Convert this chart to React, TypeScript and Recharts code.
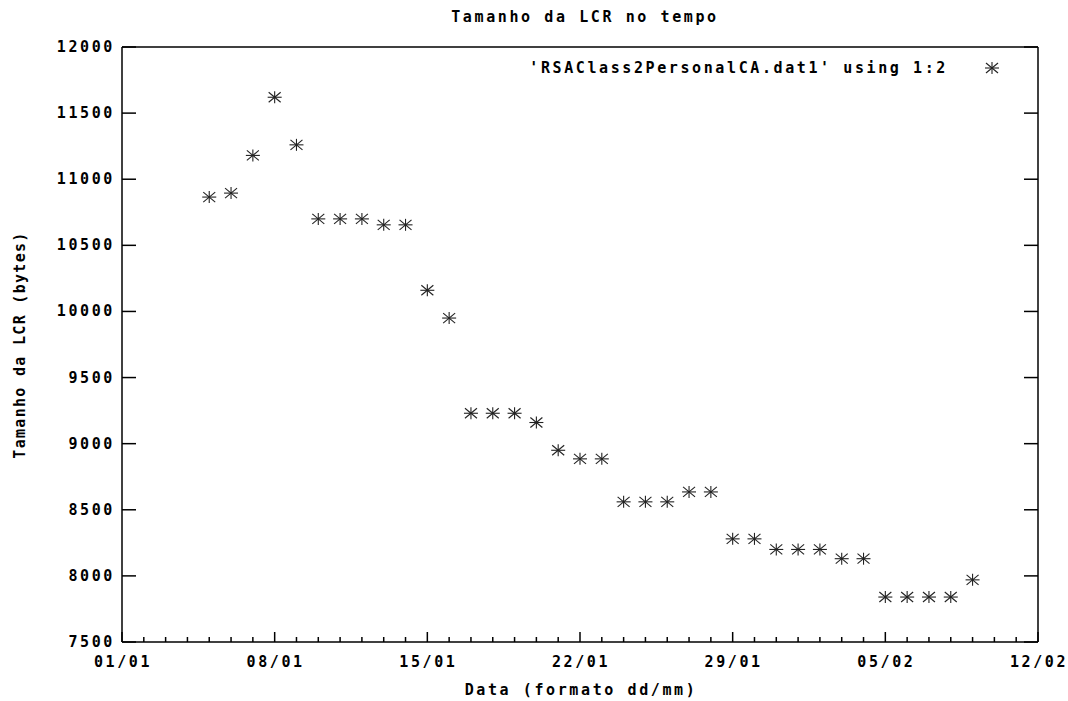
import React from 'react';
import { ScatterChart, Scatter, XAxis, YAxis, Legend } from 'recharts';

// days since 01/01
const days = [
  4, 5, 6, 7, 8, 9, 10, 11, 12, 13, 14, 15,
  16, 17, 18, 19, 20, 21, 22, 23, 24, 25, 26, 27,
  28, 29, 30, 31, 32, 33, 34, 35, 36, 37, 38, 39,
];
// LCR size in bytes
const lcrSize = [
  10865, 10895, 11180, 11620, 11260, 10700, 10700, 10700, 10655, 10655, 10160, 9950,
  9230, 9230, 9230, 9160, 8950, 8885, 8885, 8560, 8560, 8560, 8635, 8635,
  8280, 8280, 8200, 8200, 8200, 8130, 8130, 7840, 7840, 7840, 7840, 7970,
];
const xTickLabels = ['01/01', '08/01', '15/01', '22/01', '29/01', '05/02', '12/02'];
const xTicks = Array.from({ length: 43 }, (_, i) => i);
const yTicks = [7500, 8000, 8500, 9000, 9500, 10000, 10500, 11000, 11500, 12000];

const title = 'Tamanho da LCR no tempo';
const xTitle = 'Data (formato dd/mm)';
const yTitle = 'Tamanho da LCR (bytes)';
const seriesName = "'RSAClass2PersonalCA.dat1' using 1:2";

const data = days.map((d, i) => ({ day: d, size: lcrSize[i] }));

const W = 1068;
const H = 701;

const font: React.CSSProperties = {
  fontFamily: "'DejaVu Sans Mono', monospace",
  fontWeight: 'bold',
  fontSize: 15,
  letterSpacing: '2.6px',
  fill: '#000',
  color: '#000',
};

const Star = ({ cx, cy }: { cx: number; cy: number }) => (
  <g stroke="#222" strokeWidth={1.1}>
    <line x1={cx - 7} y1={cy} x2={cx + 7} y2={cy} />
    <line x1={cx} y1={cy - 6} x2={cx} y2={cy + 6} />
    <line x1={cx - 6} y1={cy - 5} x2={cx + 6} y2={cy + 5} />
    <line x1={cx - 6} y1={cy + 5} x2={cx + 6} y2={cy - 5} />
  </g>
);

const BottomTick = (props: any) => {
  const { x, y, payload } = props;
  const major = payload.value % 7 === 0;
  return (
    <g>
      <line x1={x} y1={y} x2={x} y2={y - (major ? 10 : 5)} stroke="#000" strokeWidth={1.5} />
      {major && (
        <text x={x + 1} y={y + 20} textAnchor="middle" dominantBaseline="central" style={font}>
          {xTickLabels[payload.value / 7]}
        </text>
      )}
    </g>
  );
};

const TopTick = (props: any) => {
  const { x, y, payload } = props;
  const major = payload.value % 7 === 0;
  return <line x1={x} y1={y} x2={x} y2={y + (major ? 10 : 5)} stroke="#000" strokeWidth={1.5} />;
};

const LeftTick = (props: any) => {
  const { x, y, payload } = props;
  return (
    <g>
      <line x1={x} y1={y} x2={x + 14} y2={y} stroke="#000" strokeWidth={1.5} />
      <text x={x - 7} y={y} textAnchor="end" dominantBaseline="central" style={font}>
        {payload.value}
      </text>
    </g>
  );
};

const RightTick = (props: any) => {
  const { x, y } = props;
  return <line x1={x} y1={y} x2={x - 14} y2={y} stroke="#000" strokeWidth={1.5} />;
};

const LegendKey = () => (
  <div style={{ position: 'relative', width: W, height: 24 }}>
    <span style={{ ...font, position: 'absolute', right: W - 948, top: 2, whiteSpace: 'pre', lineHeight: '20px' }}>
      {seriesName}
    </span>
    <svg style={{ position: 'absolute', left: 982, top: 2 }} width={20} height={20}>
      <Star cx={10} cy={10} />
    </svg>
  </div>
);

const App = () => {
  const axisLine = { stroke: '#000', strokeWidth: 1.5 };
  return (
    <div style={{ position: 'absolute', left: 0, top: 0, width: W, height: H, background: '#fff' }}>
      <div
        style={{
          ...font,
          position: 'absolute',
          top: 7,
          left: 585,
          whiteSpace: 'pre',
          lineHeight: '20px',
          transform: 'translateX(-50%)',
        }}
      >
        {title}
      </div>
      <div
        style={{
          ...font,
          position: 'absolute',
          top: 680,
          left: 581,
          whiteSpace: 'pre',
          lineHeight: '20px',
          transform: 'translateX(-50%)',
        }}
      >
        {xTitle}
      </div>
      <div
        style={{
          ...font,
          letterSpacing: '1.3px',
          position: 'absolute',
          left: 20,
          top: 345,
          whiteSpace: 'pre',
          lineHeight: '20px',
          transform: 'translate(-50%, -50%) rotate(-90deg)',
        }}
      >
        {yTitle}
      </div>
      <ScatterChart width={W} height={H} margin={{ top: 46, right: 29, bottom: 58, left: 121 }}>
        <XAxis
          xAxisId="b"
          dataKey="day"
          type="number"
          domain={[0, 42]}
          ticks={xTicks}
          interval={0}
          height={1}
          tickSize={0}
          tickMargin={0}
          tick={<BottomTick />}
          axisLine={axisLine}
          allowDataOverflow
        />
        <XAxis
          xAxisId="t"
          orientation="top"
          type="number"
          domain={[0, 42]}
          ticks={xTicks}
          interval={0}
          height={1}
          tickSize={0}
          tickMargin={0}
          tick={<TopTick />}
          axisLine={axisLine}
          allowDataOverflow
        />
        <YAxis
          yAxisId="l"
          dataKey="size"
          type="number"
          domain={[7500, 12000]}
          ticks={yTicks}
          interval={0}
          width={1}
          tickSize={0}
          tickMargin={0}
          tick={<LeftTick />}
          axisLine={axisLine}
          allowDataOverflow
        />
        <YAxis
          yAxisId="r"
          orientation="right"
          type="number"
          domain={[7500, 12000]}
          ticks={yTicks}
          interval={0}
          width={1}
          tickSize={0}
          tickMargin={0}
          tick={<RightTick />}
          axisLine={axisLine}
          allowDataOverflow
        />
        <Legend
          layout="vertical"
          align="center"
          verticalAlign="middle"
          content={<LegendKey />}
          wrapperStyle={{ top: 56, left: 0, width: W, height: 24 }}
        />
        <Scatter
          name={seriesName}
          data={data}
          xAxisId="b"
          yAxisId="l"
          isAnimationActive={false}
          shape={(p: any) => <Star cx={p.cx} cy={p.cy} />}
        />
      </ScatterChart>
    </div>
  );
};

export default App;
